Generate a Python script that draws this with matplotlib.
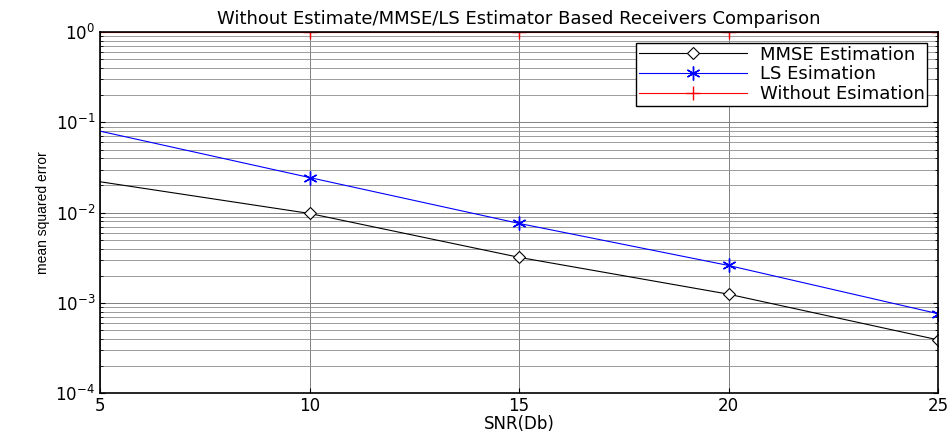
import numpy as np
import matplotlib.pyplot as plt

plt.rcParams['font.family'] = ['DejaVu Sans']

snr = [5, 10, 15, 20, 25]
mmse = [0.022, 0.0098, 0.0032, 0.00125, 0.00039]
ls = [0.08, 0.0245, 0.0076, 0.0026, 0.00076]
without = [1.0, 1.0, 1.0, 1.0, 1.0]

fig = plt.figure(figsize=(9.48, 4.34), dpi=100)
ax = fig.add_axes([0.1055, 0.094, 0.884, 0.832])

ax.semilogy(snr, mmse, color='black', lw=0.8, marker='D', ms=6.5, mfc='white',
            mec='black', mew=0.8, markevery=[1, 2, 3, 4], label='MMSE Estimation')
ax.semilogy(snr, ls, color='blue', lw=0.8, marker=(6, 2, 0), ms=10,
            mec='blue', mew=1.0, markevery=[1, 2, 3, 4], label='LS Esimation')
ax.semilogy(snr, without, color='red', lw=0.8, marker='+', ms=10, mew=1.0,
            markevery=[1, 2, 3, 4], label='Without Esimation')

ax.set_xlim(5, 25)
ax.set_ylim(1e-4, 1)
ax.set_xticks([5, 10, 15, 20, 25])
ax.grid(True, which='major', color='#808080', lw=0.7)
ax.grid(True, which='minor', axis='y', color='#8c8c8c', lw=0.6)
ax.tick_params(direction='in', which='both', labelsize=12, top=True, right=True)
ax.tick_params(axis='x', pad=3)
for s in ax.spines.values():
    s.set_linewidth(1.2)

ax.set_title('Without Estimate/MMSE/LS Estimator Based Receivers Comparison',
             fontsize=13, pad=6)
ax.set_xlabel('SNR(Db)', fontsize=12, labelpad=0)
ax.set_ylabel('mean squared error', fontsize=10,
              family=['Liberation Sans Narrow', 'Liberation Sans'], labelpad=4)

leg = ax.legend(loc='upper right', fontsize=13, fancybox=False, framealpha=1,
                edgecolor='black', borderpad=0.15, labelspacing=0.1,
                handlelength=6.0, handletextpad=0.7, borderaxespad=0.6)
leg.get_frame().set_linewidth(1.0)

plt.savefig('out.png', dpi=100)
